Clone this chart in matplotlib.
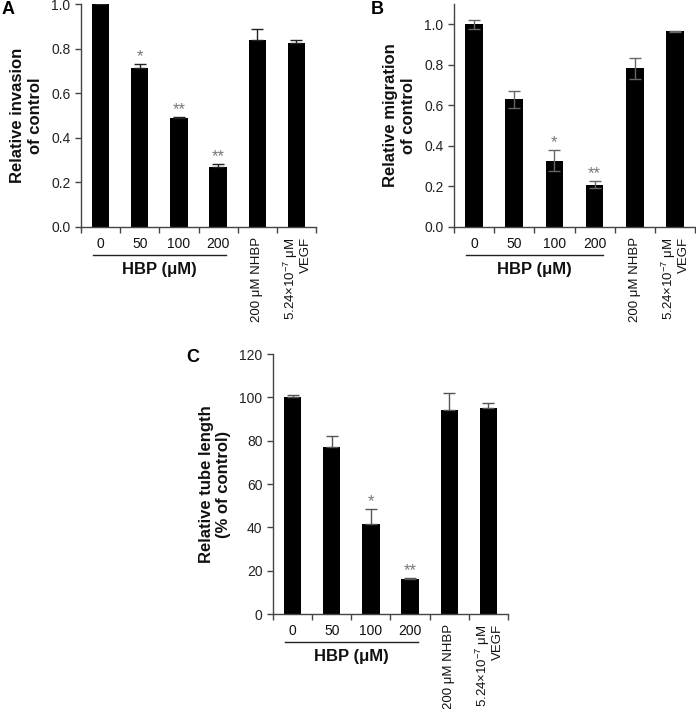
import matplotlib
matplotlib.use("Agg")
import matplotlib.pyplot as plt
from matplotlib.transforms import blended_transform_factory

plt.rcParams['font.family'] = ['Liberation Sans', 'DejaVu Sans']
plt.rcParams['mathtext.fontset'] = 'custom'
plt.rcParams['mathtext.rm'] = 'Liberation Sans'
plt.rcParams['mathtext.it'] = 'Liberation Sans:italic'
plt.rcParams['mathtext.bf'] = 'Liberation Sans:bold'

# ---- data ----
hbp_doses = ["0", "50", "100", "200"]
extra_labels = ["200 μM NHBP", "5.24×10$^{-7}$ μM\nVEGF"]

invasion = [1.0, 0.715, 0.49, 0.27, 0.837, 0.825]
invasion_err = [0.004, 0.015, 0.003, 0.013, 0.052, 0.012]
invasion_sig = ["", "*", "**", "**", "", ""]

migration = [1.0, 0.63, 0.326, 0.209, 0.783, 0.965]
migration_err = [0.023, 0.041, 0.052, 0.016, 0.051, 0.002]
migration_sig = ["", "", "*", "**", "", ""]

tube = [100, 76.9, 41.5, 16.3, 94, 95]
tube_err = [1.0, 5.3, 6.8, 0.3, 7.8, 2.4]
tube_sig = ["", "", "*", "**", "", ""]

W, H = 696, 709
fig = plt.figure(figsize=(W / 100, H / 100), dpi=100)


def make_axes(l, r, t, b):
    return fig.add_axes([l / W, 1 - b / H, (r - l) / W, (b - t) / H])


def panel(ax, vals, errs, sig, ylim, yticks, yfmt, ylabel, ecolor, sym, letter, letter_xy, ah):
    x = list(range(len(vals)))
    if sym:
        yerr = errs
    else:
        yerr = [[0] * len(errs), errs]
    ax.bar(x, vals, width=0.44, color='black', zorder=2)
    ax.errorbar(x, vals, yerr=yerr, fmt='none', ecolor=ecolor, elinewidth=1.0,
                capsize=4, capthick=1.0, zorder=3)
    ax.set_xlim(-0.5, len(vals) - 0.5)
    ax.set_ylim(*ylim)
    ax.set_yticks(yticks)
    ax.set_yticklabels([yfmt.format(v) for v in yticks])
    ax.set_xticks([i - 0.5 for i in range(len(vals) + 1)])
    ax.set_xticklabels([])
    for s in ['top', 'right']:
        ax.spines[s].set_visible(False)
    for s in ['left', 'bottom']:
        ax.spines[s].set_color('#444444')
        ax.spines[s].set_linewidth(1.0)
    ax.tick_params(axis='both', colors='#444444', labelcolor='#222222',
                   labelsize=10, length=4, width=1.0)
    ax.set_ylabel(ylabel, fontsize=12, fontweight='bold', labelpad=6, color='#111111')

    # significance stars
    for i, (v, e, s) in enumerate(zip(vals, errs, sig)):
        if s:
            ax.annotate(s, xy=(i, v + e), xytext=(0, 0), textcoords='offset pixels',
                        ha='center', va='bottom', fontsize=12, color='#777777')

    tr = blended_transform_factory(ax.transData, ax.transAxes)
    # dose labels
    for i, lab in enumerate(hbp_doses):
        ax.annotate(lab, xy=(i, 0), xycoords=tr, xytext=(0, -17), textcoords='offset pixels',
                    ha='center', va='center', fontsize=10, color='#111111')
    # underline
    ax.plot([-0.2, 3.2], [-28 / ah, -28 / ah], transform=tr, color='#222222',
            lw=1.0, clip_on=False)
    ax.annotate("HBP (μM)", xy=(1.5, 0), xycoords=tr, xytext=(0, -43),
                textcoords='offset pixels', ha='center', va='center',
                fontsize=12, fontweight='bold', color='#111111')
    for j, lab in enumerate(extra_labels):
        ax.annotate(lab, xy=(4 + j, 0), xycoords=tr, xytext=(0, -10),
                    textcoords='offset pixels', ha='center', va='top', rotation=90,
                    multialignment='right', fontsize=9.5, color='#111111',
                    linespacing=1.0)
    fig.text(letter_xy[0] / W, 1 - letter_xy[1] / H, letter, fontsize=13,
             fontweight='bold', ha='left', va='center')


axA = make_axes(81, 316, 4, 227)
panel(axA, invasion, invasion_err, invasion_sig, (0, 1.0), [0, 0.2, 0.4, 0.6, 0.8, 1.0],
      "{:.1f}", "Relative invasion\nof control", '#222222', False, "A", (2, 10), 223)

axB = make_axes(454, 695, 4, 227)
panel(axB, migration, migration_err, migration_sig, (0, 1.1), [0, 0.2, 0.4, 0.6, 0.8, 1.0],
      "{:.1f}", "Relative migration\nof control", '#666666', True, "B", (371, 9), 223)

axC = make_axes(273, 508, 354, 614)
panel(axC, tube, tube_err, tube_sig, (0, 120), [0, 20, 40, 60, 80, 100, 120],
      "{:d}", "Relative tube length\n(% of control)", '#555555', False, "C", (186, 357), 260)

fig.savefig("out.png", dpi=100)
